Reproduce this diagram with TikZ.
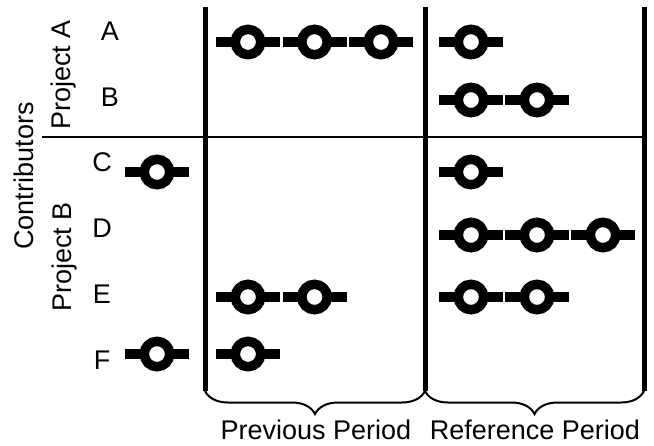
\documentclass[tikz,border=0pt]{standalone}
\usepackage{fontspec}
\setmainfont{Liberation Sans}
\usetikzlibrary{decorations.pathreplacing}

\tikzset{
  lbl/.style={inner sep=0pt, font=\fontsize{27}{30}\selectfont},
  divider/.style={line width=5pt, line cap=butt},
  grpline/.style={line width=2.5pt},
  period/.style={decorate, line width=2pt,
    decoration={brace, mirror, amplitude=23pt}},
  % one contribution: a bar with a hollow ring on it
  tok/.pic={
    \draw[line width=9.5pt] (-32,0) -- (32,0);
    \draw[line width=9.5pt, fill=white] (0,0) circle[radius=12.7];
  }
}

\begin{document}
\begin{tikzpicture}[x=1pt, y=-1pt]
\useasboundingbox (0,0) rectangle (654,445);

% column dividers
\coordinate (l1) at (205,7);   \coordinate (l1b) at (205,391);
\coordinate (l2) at (425,7);   \coordinate (l2b) at (425,391);
\coordinate (l3) at (644,7);   \coordinate (l3b) at (644,391);
\draw[divider] (l1) -- (l1b);
\draw[divider] (l2) -- (l2b);
\draw[divider] (l3) -- (l3b);

% separator between the two projects
\coordinate (s0) at (42,137);
\coordinate (s1) at (644,137);
\draw[grpline] (s0) -- (s1);

% axis labels
\node[lbl, rotate=90, anchor=base] (contrib) at (34,176) {Contributors};
\node[lbl, rotate=90, anchor=base] (pa) at (70,75) {Project A};
\node[lbl, rotate=90, anchor=base] (pb) at (71,257) {Project B};

% contributor rows
\node[lbl, anchor=base] (rA) at (110,40) {A};
\node[lbl, anchor=base] (rB) at (110,106) {B};
\node[lbl, anchor=base] (rC) at (102,171) {C};
\node[lbl, anchor=base] (rD) at (102,237) {D};
\node[lbl, anchor=base] (rE) at (102,303) {E};
\node[lbl, anchor=base] (rF) at (102,369) {F};

% contributions before the previous period
\pic at (157,172) {tok};
\pic at (157,354) {tok};

% previous period
\pic at (248,42) {tok};
\pic at (314.5,42) {tok};
\pic at (381,42) {tok};
\pic at (248,297) {tok};
\pic at (314.5,297) {tok};
\pic at (248,354) {tok};

% reference period
\pic at (471,42) {tok};
\pic at (471,100) {tok};
\pic at (537,100) {tok};
\pic at (471,172) {tok};
\pic at (471,235) {tok};
\pic at (537,235) {tok};
\pic at (603,235) {tok};
\pic at (471,297) {tok};
\pic at (537,297) {tok};

% period braces
\draw[period] (l1b) -- (l2b);
\draw[period] (l2b) -- (l3b);
\node[lbl, anchor=base] (prev) at (316,439) {Previous Period};
\node[lbl, anchor=base] (ref) at (535,439) {Reference Period};
\end{tikzpicture}
\end{document}
